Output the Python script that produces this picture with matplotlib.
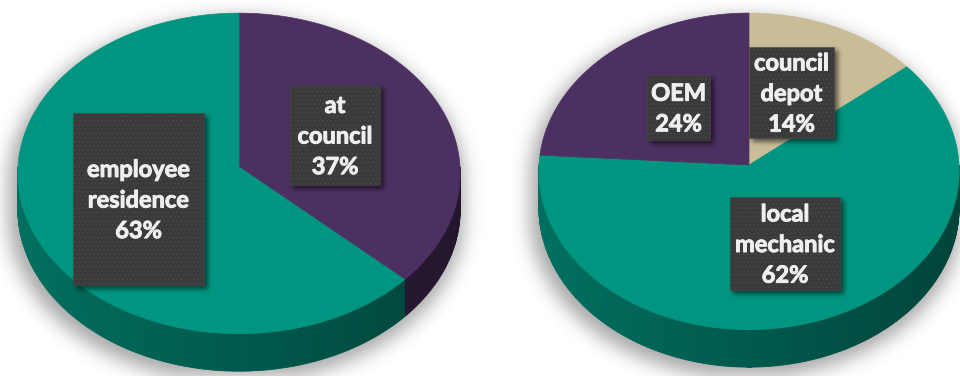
import numpy as np
import matplotlib
matplotlib.use('Agg')
import matplotlib.pyplot as plt
import matplotlib.patheffects as pe
from matplotlib.patches import Polygon, Rectangle
from matplotlib.collections import PolyCollection
from matplotlib.path import Path

# data: where the work was done
left_labels = ['at\ncouncil', 'employee\nresidence']
left_values = [37, 63]
left_colors = ['#4d3062', '#009580']

right_labels = ['council\ndepot', 'local\nmechanic', 'OEM']
right_values = [14, 62, 24]
right_colors = ['#c9bd98', '#009580', '#4d3062']

# layout (pixels)
W, H = 960, 376
left_pie = dict(cx=239, cy=167, a=221, b=160, k=0.04, depth=36)
right_pie = dict(cx=749, cy=165, a=210, b=158, k=0.04, depth=36)

# label boxes: x0, y0, x1, y1
left_boxes = [(290, 85, 380, 185), (73, 113, 204, 285)]
right_boxes = [(749, 47, 834, 138), (730, 197, 840, 290), (647, 75, 710, 140)]

FONT = ['Lato', 'DejaVu Sans']


def project(pie, theta, drop=0.0):
    X, Y = np.cos(theta), np.sin(theta)
    w = 1 + pie['k'] * Y
    return pie['cx'] + pie['a'] * X / w, pie['cy'] - pie['b'] * Y / w + drop / w


def slice_angles(values):
    frac = np.array(values, dtype=float) / np.sum(values)
    cum = np.concatenate([[0], np.cumsum(frac)])
    hi = np.pi / 2 - cum[:-1] * 2 * np.pi
    lo = np.pi / 2 - cum[1:] * 2 * np.pi
    return list(zip(lo, hi))


def blur(img, sigma):
    r = int(3 * sigma)
    x = np.arange(-r, r + 1)
    k = np.exp(-x ** 2 / (2 * sigma ** 2))
    k /= k.sum()
    img = np.apply_along_axis(lambda m: np.convolve(m, k, mode='same'), 0, img)
    img = np.apply_along_axis(lambda m: np.convolve(m, k, mode='same'), 1, img)
    return img


def shade(color, f):
    rgb = np.array(matplotlib.colors.to_rgb(color))
    return tuple(np.clip(rgb * f, 0, 1))


yy, xx = np.mgrid[0:H, 0:W]
grid = np.column_stack([xx.ravel() + 0.5, yy.ravel() + 0.5])


def pie_shadow_mask(pie):
    t_up = np.linspace(0, np.pi, 200)
    t_dn = np.linspace(np.pi, 2 * np.pi, 200)
    x1, y1 = project(pie, t_up)
    x2, y2 = project(pie, t_dn, pie['depth'])
    xs = np.concatenate([x1, x2])
    ys = np.concatenate([y1, y2])
    xs = (xs - pie['cx']) * 1.03 + pie['cx'] - 3
    ys = (ys - pie['cy']) * 1.02 + pie['cy'] + 7
    path = Path(np.column_stack([xs, ys]))
    return path.contains_points(grid).reshape(H, W).astype(float)


def draw_pie(ax, pie, values, colors):
    angles = slice_angles(values)
    # side wall, front half only
    for (lo, hi), col in zip(angles, colors):
        for n in (-1, 0, 1):
            a0 = max(lo, np.pi + 2 * np.pi * n)
            a1 = min(hi, 2 * np.pi + 2 * np.pi * n)
            if a1 <= a0:
                continue
            ts = np.linspace(a0, a1, max(int((a1 - a0) * 60), 2))
            xt, yt = project(pie, ts)
            xb, yb = project(pie, ts, pie['depth'])
            quads, fcs = [], []
            for i in range(len(ts) - 1):
                quads.append([(xt[i], yt[i]), (xt[i + 1], yt[i + 1]),
                              (xb[i + 1], yb[i + 1]), (xb[i], yb[i])])
                tm = 0.5 * (ts[i] + ts[i + 1])
                fcs.append(shade(col, 0.6 - 0.15 * np.cos(tm)))
            ax.add_collection(PolyCollection(quads, facecolors=fcs, edgecolors=fcs,
                                             linewidths=0.6, zorder=1))
    # top face
    for (lo, hi), col in zip(angles, colors):
        ts = np.linspace(lo, hi, 200)
        xs, ys = project(pie, ts)
        pts = [(pie['cx'], pie['cy'])] + list(zip(xs, ys))
        ax.add_patch(Polygon(pts, closed=True, facecolor=col, edgecolor=col,
                             linewidth=0.5, zorder=2))


def draw_labels(ax, labels, values, boxes):
    for lab, val, (x0, y0, x1, y1) in zip(labels, values, boxes):
        ax.add_patch(Rectangle((x0, y0), x1 - x0, y1 - y0, facecolor='#3a3a3a',
                               edgecolor='#4a4a4a', hatch='....', linewidth=0.4,
                               zorder=4))
        t = ax.text((x0 + x1) / 2, (y0 + y1) / 2 + 1, f'{lab}\n{val}%', ha='center',
                    va='center', color='#efefef', fontsize=17, fontweight='bold',
                    family=FONT, linespacing=1.4, zorder=5)
        # thicken the strokes a little
        t.set_path_effects([pe.withStroke(linewidth=0.7, foreground='#efefef')])


plt.rcParams['hatch.linewidth'] = 0.5
fig = plt.figure(figsize=(9.6, 3.76), dpi=100)
ax = fig.add_axes([0, 0, 1, 1])

# soft drop shadow under both pies
mask = np.maximum(pie_shadow_mask(left_pie), pie_shadow_mask(right_pie))
alpha = blur(mask, 9) * 0.48
rgba = np.zeros((H, W, 4))
rgba[..., :3] = 0.3
rgba[..., 3] = alpha
ax.imshow(rgba, extent=(0, W, H, 0), zorder=0, interpolation='bilinear', aspect='auto')

draw_pie(ax, left_pie, left_values, left_colors)
draw_pie(ax, right_pie, right_values, right_colors)

# label shadows
box_mask = np.zeros((H, W))
for (x0, y0, x1, y1) in left_boxes + right_boxes:
    box_mask[int(y0) + 3:int(y1) + 4, int(x0) + 3:int(x1) + 4] = 1
rgba2 = np.zeros((H, W, 4))
rgba2[..., 3] = blur(box_mask, 2.5) * 0.55
ax.imshow(rgba2, extent=(0, W, H, 0), zorder=3, interpolation='bilinear', aspect='auto')

draw_labels(ax, left_labels, left_values, left_boxes)
draw_labels(ax, right_labels, right_values, right_boxes)

ax.set_xlim(0, W)
ax.set_ylim(H, 0)
ax.axis('off')
fig.savefig('out.png', dpi=100, facecolor='white')
